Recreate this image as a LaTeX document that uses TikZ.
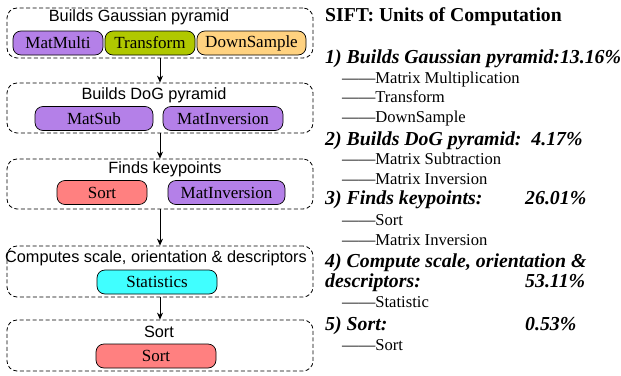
\documentclass[tikz,border=0pt]{standalone}
\usepackage{fontspec}
\setmainfont{Liberation Serif}
\newfontfamily\titlefont{Liberation Sans}
\usepackage{xcolor}
\usetikzlibrary{arrows.meta}

\definecolor{unitpurple}{RGB}{180,128,232}
\definecolor{unitgreen}{RGB}{176,200,0}
\definecolor{unitorange}{RGB}{255,210,128}
\definecolor{unitred}{RGB}{255,128,128}
\definecolor{unitcyan}{RGB}{64,255,255}

\tikzset{
  stage/.style={draw, line width=0.8pt, dash pattern=on 4pt off 2.5pt, rounded corners=10pt, minimum width=306pt, inner sep=0pt},
  stagetitle/.style={font=\titlefont\fontsize{16.3}{17}\selectfont, inner sep=0pt},
  unit/.style={draw, line width=0.7pt, rounded corners=8pt, minimum height=24pt, inner sep=0pt, font=\fontsize{17}{18}\selectfont},
  heading/.style={anchor=base west, inner sep=0pt, font=\bfseries\itshape\fontsize{19.8}{20}\selectfont},
  item/.style={anchor=base west, inner sep=0pt, font=\fontsize{16.6}{17}\selectfont},
  flow/.style={line width=0.7pt, -{Stealth[length=7pt,width=6pt]}}
}

\begin{document}
\begin{tikzpicture}[x=1pt, y=-1pt]

    % Canvas
    \useasboundingbox (0, 0) rectangle (621, 375);

    % Stages
    \node[stage, minimum height=50pt] (gauss) at (160, 33) {};
    \node[stage, minimum height=50pt] (dog) at (160, 108) {};
    \node[stage, minimum height=50pt] (keys) at (160, 184) {};
    \node[stage, minimum height=51pt] (desc) at (160, 271.5) {};
    \node[stage, minimum height=51pt] (sortstage) at (160, 345.5) {};

    % Stage titles
    \node[stagetitle] (gausstitle) at (139, 17) {Builds Gaussian pyramid};
    \node[stagetitle] (dogtitle) at (154, 95) {Builds DoG pyramid};
    \node[stagetitle] (keystitle) at (165, 169) {Finds keypoints};
    \node[stagetitle] (desctitle) at (156, 258) {Computes scale, orientation \& descriptors};
    \node[stagetitle] (sorttitle) at (159, 332) {Sort};

    % Units
    \node[unit, fill=unitpurple, minimum width=90pt] (matmulti) at (58, 43) {MatMulti};
    \node[unit, fill=unitgreen, minimum width=90pt] (transform) at (150, 43) {Transform};
    \node[unit, fill=unitorange, minimum width=109pt] (downsample) at (251.5, 43) {DownSample};
    \node[unit, fill=unitpurple, minimum width=118pt] (matsub) at (94, 118.5) {MatSub};
    \node[unit, fill=unitpurple, minimum width=120pt] (matinvA) at (223, 118.5) {MatInversion};
    \node[unit, fill=unitred, minimum width=90pt] (sortA) at (102, 192.5) {Sort};
    \node[unit, fill=unitpurple, minimum width=117pt] (matinvB) at (226.5, 192.5) {MatInversion};
    \node[unit, fill=unitcyan, minimum width=120pt] (statistics) at (157, 282) {Statistics};
    \node[unit, fill=unitred, minimum width=120pt] (sortB) at (156, 356) {Sort};

    % Flow
    \draw[flow] (gauss) -- (dog);
    \draw[flow] (dog) -- (keys);
    \draw[flow] (keys) -- (desc);
    \draw[flow] (desc) -- (sortstage);

    % Summary
    \node[anchor=base west, inner sep=0pt, font=\bfseries\fontsize{19.7}{20}\selectfont] (summary) at (325, 21) {SIFT: Units of Computation};

    \node[heading] (headA) at (325, 63) {1) Builds Gaussian pyramid:13.16\%};
    \node[item] (itemA1) at (342, 83) {——Matrix Multiplication};
    \node[item] (itemA2) at (342, 102.5) {——Transform};
    \node[item] (itemA3) at (342, 122) {——DownSample};

    \node[heading] (headB) at (325, 145) {2) Builds DoG pyramid:\ \ 4.17\%};
    \node[item] (itemB1) at (342, 164.5) {——Matrix Subtraction};
    \node[item] (itemB2) at (342, 184) {——Matrix Inversion};

    \node[heading] (headC) at (325, 204) {3) Finds keypoints:};
    \node[heading] (pctC) at (525, 204) {26.01\%};
    \node[item] (itemC1) at (342, 225) {——Sort};
    \node[item] (itemC2) at (342, 245) {——Matrix Inversion};

    \node[heading] (headD) at (325, 267) {4) Compute scale, orientation \&};
    \node[heading] (headD2) at (325, 287.5) {descriptors:};
    \node[heading] (pctD) at (525, 287.5) {53.11\%};
    \node[item] (itemD1) at (342, 307) {——Statistic};

    \node[heading] (headE) at (325, 330) {5) Sort:};
    \node[heading] (pctE) at (525, 330) {0.53\%};
    \node[item] (itemE1) at (342, 350) {——Sort};

\end{tikzpicture}
\end{document}
